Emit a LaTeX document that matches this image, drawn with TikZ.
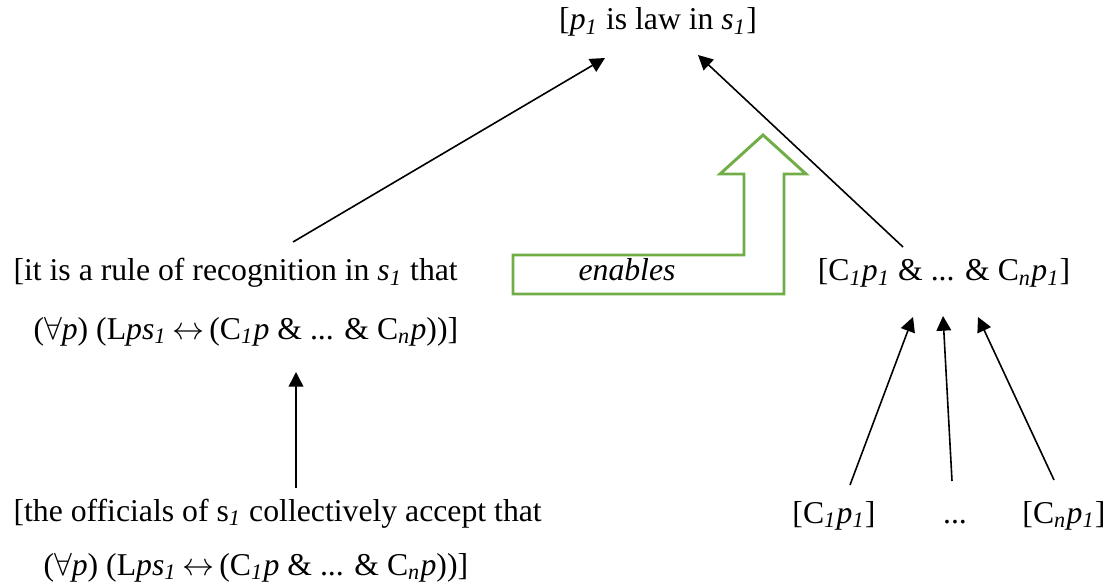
\documentclass[tikz,border=0pt]{standalone}
\usepackage{fontspec}
\setmainfont{Liberation Serif}
\usetikzlibrary{arrows.meta,positioning}
\definecolor{enablec}{HTML}{70AD47}
\newcommand{\ix}[1]{\textsubscript{\textit{#1}}}
\newcommand{\bicond}{(\textit{$\forall$p}) (L\textit{ps}\ix{1}\,$\leftrightarrow$\,(C\ix{1}\textit{p} \& ... \& C\ix{n}\textit{p}))]}

\begin{document}
\begin{tikzpicture}[x=0.375pt, y=-0.375pt, font=\fontsize{11.9}{14}\selectfont,
  arr/.style={-{Triangle[width=5.5pt,length=5.5pt]}, line width=0.6pt},
  txt/.style={inner sep=0pt, anchor=base west},
  ctr/.style={inner sep=0pt, anchor=base}]
\useasboundingbox (0,0) rectangle (1107,587);

% ---- top : what is law ----
\node[ctr] (law) at (658,30) {[\textit{p}\ix{1} is law in \textit{s}\ix{1}]};

% ---- middle : the rule of recognition and the conjunction ----
\node[txt] (rule1) at (13,281) {[it is a rule of recognition in \textit{s}\ix{1} that};
\node[txt] (rule2) at (33,339) {\bicond};
\node[ctr] (conj) at (944,281) {[C\ix{1}\textit{p}\ix{1} \& ... \& C\ix{n}\textit{p}\ix{1}]};

% ---- bottom : acceptance and the single conditions ----
\node[txt] (accept1) at (13,521) {[the officials of s\ix{1} collectively accept that};
\node[txt] (accept2) at (43,575) {\bicond};
\node[ctr] (c1) at (834,523) {[C\ix{1}\textit{p}\ix{1}]};
\node[ctr] (cdots) at (955,523) {...};
\node[ctr] (cn) at (1064,523) {[C\ix{n}\textit{p}\ix{1}]};

% connector ends
\coordinate (law-l) at (605,58);
\coordinate (law-r) at (698,55);
\coordinate (rule-top) at (293,242);
\coordinate (rule-bot) at (296,372);
\coordinate (accept-top) at (296,488);
\coordinate (conj-top) at (903,247);
\coordinate (conj-l) at (913,317);
\coordinate (conj-m) at (943,316);
\coordinate (conj-r) at (978,317);
\coordinate (c1-top) at (850,485);
\coordinate (cdots-top) at (952,481);
\coordinate (cn-top) at (1054,480);

\draw[arr] (rule-top) -- (law-l);
\draw[arr] (conj-top) -- (law-r);
\draw[arr] (accept-top) -- (rule-bot);
\draw[arr] (c1-top) -- (conj-l);
\draw[arr] (cdots-top) -- (conj-m);
\draw[arr] (cn-top) -- (conj-r);

% the bent block arrow
\draw[enablec, line width=1.1pt, line join=miter]
  (513,255) -- (744,255) -- (744,174) -- (720,174) -- (763,135) -- (806,174)
  -- (784,174) -- (784,294) -- (513,294) -- cycle;
\node[ctr] (enables) at (627,281) {\textit{enables}};
\end{tikzpicture}
\end{document}
